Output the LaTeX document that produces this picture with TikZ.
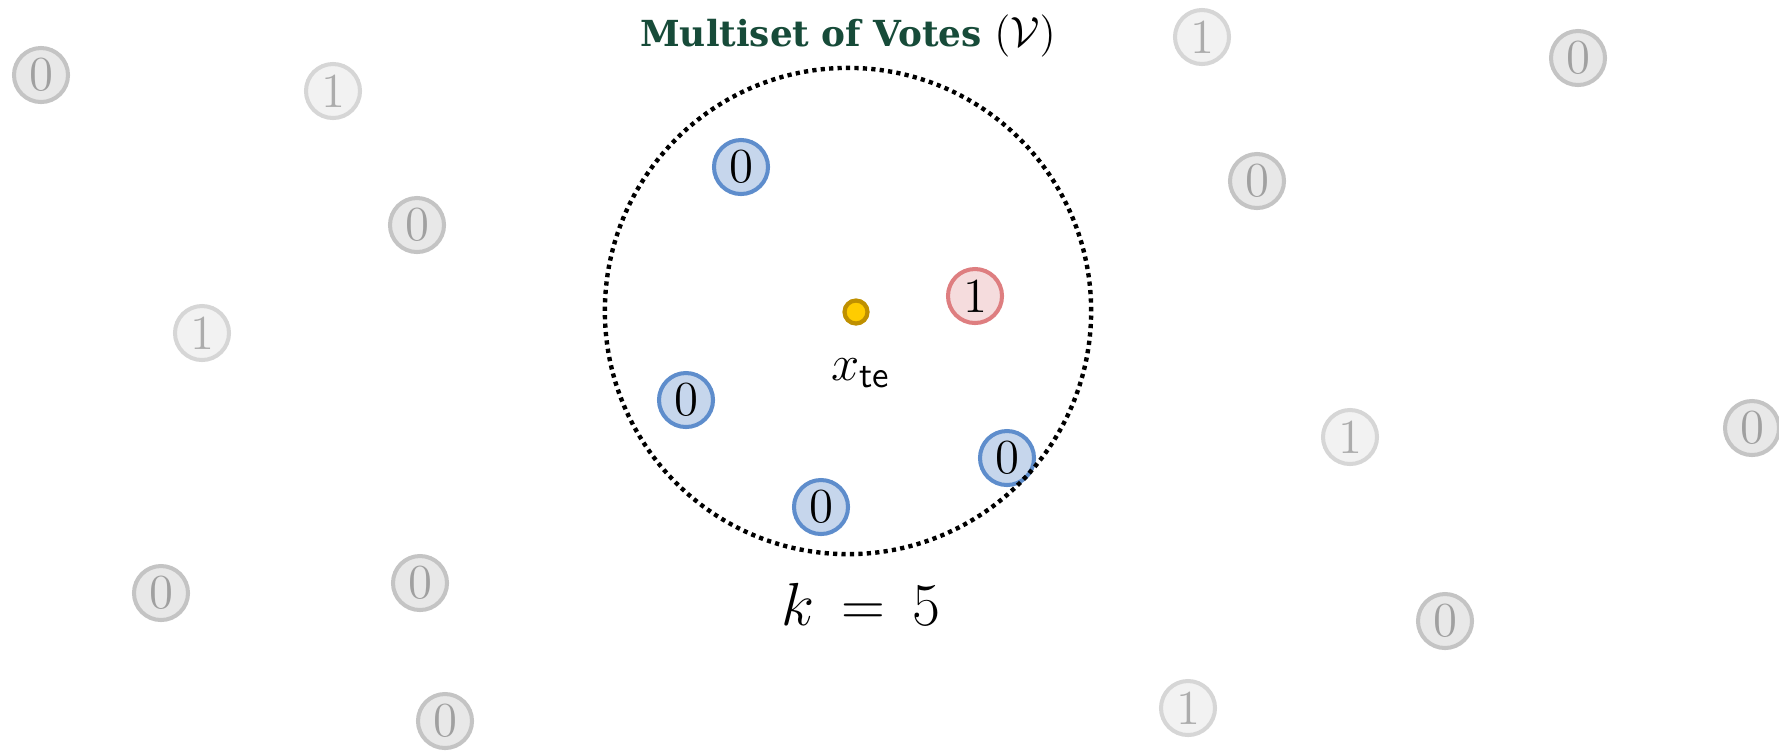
\documentclass[tikz,border=0pt]{standalone}
\usepackage{amsmath}
\usepackage{fontspec}
\usepackage{tikz}
\usetikzlibrary{positioning}
\newfontfamily\titlefont{DejaVu Serif}
\definecolor{titlegreen}{RGB}{23,75,57}
\definecolor{bluefill}{RGB}{198,214,236}
\definecolor{blueline}{RGB}{94,141,204}
\definecolor{redfill}{RGB}{245,220,221}
\definecolor{redline}{RGB}{222,126,128}
\definecolor{goldfill}{RGB}{255,204,0}
\definecolor{goldline}{RGB}{191,144,0}
\definecolor{zerofill}{RGB}{232,232,232}
\definecolor{zeroline}{RGB}{196,196,196}
\definecolor{zerotext}{RGB}{160,160,160}
\definecolor{onefill}{RGB}{242,242,242}
\definecolor{oneline}{RGB}{214,214,214}
\definecolor{onetext}{RGB}{172,172,172}

\begin{document}
\begin{tikzpicture}[x=0.01cm, y=-0.01cm,
    vote/.style={circle, inner sep=0pt, minimum size=0.54cm, line width=1.15pt,
        font=\fontsize{13.9}{16}\selectfont},
    far0/.style={vote, draw=zeroline, fill=zerofill, text=zerotext},
    far1/.style={vote, draw=oneline, fill=onefill, text=onetext},
    near0/.style={vote, draw=blueline, fill=bluefill},
    near1/.style={vote, draw=redline, fill=redfill}]
    \useasboundingbox (0,0) rectangle (1779,750);
    % votes outside the neighbourhood
    \foreach \px/\py/\b [count=\n] in {41/75/0, 333/91/1, 417/225/0, 202/333/1,
        161/593/0, 420/583/0, 445/721/0, 1202/37/1, 1578/58/0, 1257/181/0,
        1350/437/1, 1752/428/0, 1445/621/0, 1188/708/1} {
        \node[far\b] (far\n) at (\px,\py) {\b};
    }
    % the k nearest votes
    \node[near0] (nn1) at (741,167) {0};
    \node[near1] (nn2) at (975,296) {1};
    \node[near0] (nn3) at (686,400) {0};
    \node[near0] (nn4) at (821,507) {0};
    \node[near0] (nn5) at (1007,458) {0};
    % test point
    \node[circle, draw=goldline, fill=goldfill, line width=1.2pt, inner sep=0pt,
        minimum size=0.23cm] (xte) at (856,312) {};
    \node[anchor=base, font=\fontsize{15}{18}\selectfont] (xlabel) at (861,380) {$x_{\mathsf{te}}$};
    \node[circle, draw, line width=1.25pt, dash pattern=on 1.2pt off 1.2pt, inner sep=0pt,
        minimum size=4.86cm] (nbhd) at (848,311) {};
    \node[anchor=base, font=\fontsize{16}{19}\selectfont] (klabel) at (861,625) {$k \,=\, 5$};
    \node[anchor=base, text=titlegreen] (title) at (848,46)
        {\fontsize{10.2}{12}\titlefont\bfseries Multiset of Votes
         \textcolor{black}{\fontsize{13}{15}\selectfont$(\mathcal{V})$}};
\end{tikzpicture}
\end{document}
